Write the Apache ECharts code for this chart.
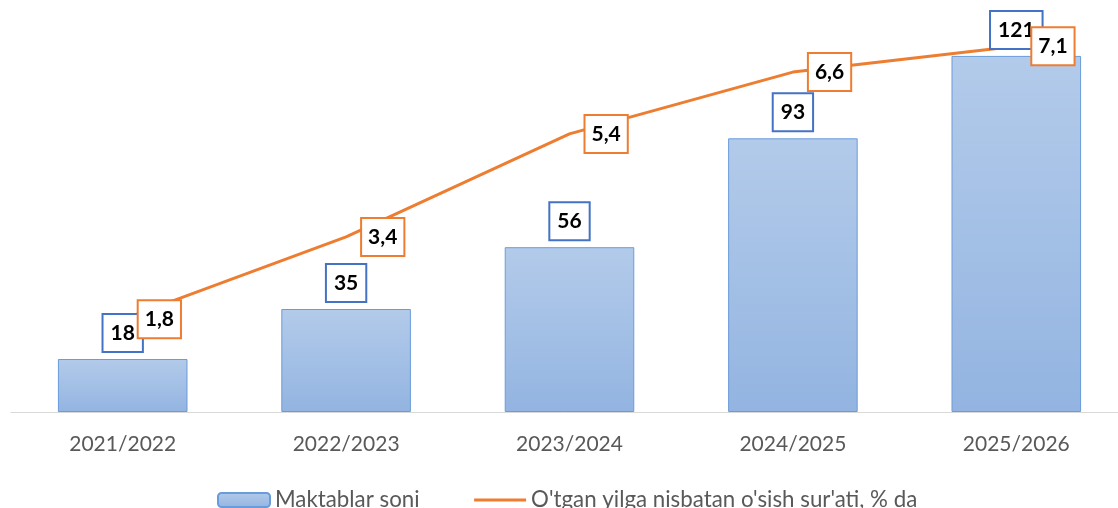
<!DOCTYPE html>
<html>
<head>
<meta charset="utf-8">
<script src="https://cdn.jsdelivr.net/npm/echarts@6/dist/echarts.min.js"></script>
<style>
html,body{margin:0;padding:0;background:#fff;}
#chart{width:1118px;height:508px;}
</style>
</head>
<body>
<div id="chart"></div>
<script>
const categories = ['2021/2022', '2022/2023', '2023/2024', '2024/2025', '2025/2026'];
const schools = [18, 35, 56, 93, 121];
const growth = [1.8, 3.4, 5.4, 6.6, 7.1];
const seriesNames = ['Maktablar soni', "O'tgan yilga nisbatan o'sish sur'ati, % da"];

const FONT = 'Lato';
const chart = echarts.init(document.getElementById('chart'), null, {renderer: 'canvas'});
chart.setOption({
  animation: false,
  backgroundColor: '#fff',
  grid: {left: 11, top: 0, width: 1117, height: 412, containLabel: false, outerBoundsMode: 'none'},
  legend: {
    left: 212, top: 484,
    itemWidth: 52, itemHeight: 14, itemGap: 53,
    textStyle: {fontFamily: FONT, fontSize: 22.3, color: '#595959'},
    data: [
      {name: seriesNames[0]},
      {name: seriesNames[1], itemStyle: {opacity: 0}, lineStyle: {width: 3, color: '#ED7D31'}}
    ]
  },
  xAxis: {
    type: 'category', data: categories,
    axisLine: {lineStyle: {color: '#D9D9D9', width: 1}},
    axisTick: {show: false},
    axisLabel: {fontFamily: FONT, fontSize: 21, color: '#595959', margin: 22}
  },
  yAxis: [
    {type: 'value', min: 0, max: 140, show: false, splitLine: {show: false}},
    {type: 'value', min: 0, max: 8, show: false, splitLine: {show: false}}
  ],
  series: [
    {
      name: seriesNames[0], type: 'bar', data: schools, barWidth: '58%', z: 2,
      itemStyle: {
        color: new echarts.graphic.LinearGradient(0, 0, 0, 1, [
          {offset: 0, color: '#B3CBEA'}, {offset: 1, color: '#93B4E1'}
        ]),
        borderColor: '#6A9BDA', borderWidth: 1
      },
      label: {
        show: true, position: 'top', distance: 8,
        fontFamily: FONT, fontSize: 21, fontWeight: 'bold', color: '#000',
        backgroundColor: '#fff', borderColor: '#4472C4', borderWidth: 2,
        padding: [7, 7], lineHeight: 22
      }
    },
    {
      name: seriesNames[1], type: 'line', yAxisIndex: 1, data: growth, z: 1,
      symbol: 'none',
      lineStyle: {color: '#ED7D31', width: 3},
      itemStyle: {color: '#ED7D31'}
    },
    {
      name: 'labels', type: 'line', yAxisIndex: 1, data: growth, z: 6, silent: true,
      symbol: 'circle', symbolSize: 2,
      lineStyle: {width: 0, opacity: 0},
      itemStyle: {color: 'rgba(0,0,0,0)'},
      label: {
        show: true, position: 'right', distance: 15,
        formatter: p => String(p.value).replace('.', ','),
        fontFamily: FONT, fontSize: 21, fontWeight: 'bold', color: '#000',
        backgroundColor: '#fff', borderColor: '#ED7D31', borderWidth: 2,
        padding: [7, 6], lineHeight: 22
      }
    }
  ]
});
</script>
</body>
</html>
